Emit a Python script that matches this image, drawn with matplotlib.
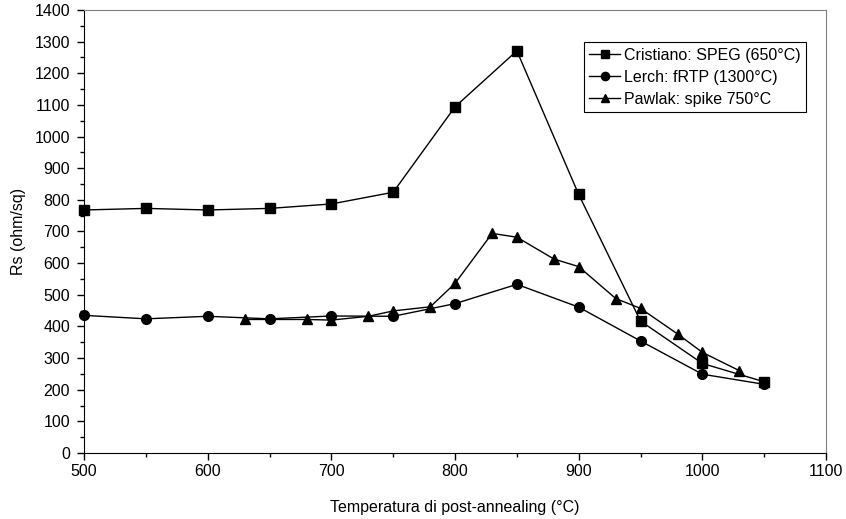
import matplotlib
matplotlib.use('Agg')
import matplotlib.pyplot as plt
from matplotlib.ticker import MultipleLocator

plt.rcParams['font.family'] = ['Liberation Sans', 'DejaVu Sans']

# dati
t_cristiano = [500, 550, 600, 650, 700, 750, 800, 850, 900, 950, 1000, 1050]
rs_cristiano = [768, 773, 768, 773, 787, 824, 1094, 1271, 817, 417, 283, 225]

t_lerch = [500, 550, 600, 650, 700, 750, 800, 850, 900, 950, 1000, 1050]
rs_lerch = [435, 424, 432, 424, 433, 432, 472, 533, 461, 354, 249, 217]

t_pawlak = [630, 680, 700, 730, 750, 780, 800, 830, 850, 880, 900, 930, 950, 980, 1000, 1030]
rs_pawlak = [422, 422, 420, 432, 449, 462, 536, 694, 682, 613, 589, 488, 457, 376, 318, 260]

fig = plt.figure(figsize=(8.46, 5.19), dpi=100)
ax = fig.add_axes([0.0993, 0.1272, 0.8771, 0.8535])

ax.plot(t_cristiano, rs_cristiano, color='black', lw=1, marker='s', ms=6.5,
        label='Cristiano: SPEG (650°C)', clip_on=False)
ax.plot(t_lerch, rs_lerch, color='black', lw=1, marker='o', ms=7,
        label='Lerch: fRTP (1300°C)', clip_on=False)
ax.plot(t_pawlak, rs_pawlak, color='black', lw=1, marker='^', ms=7.5,
        label='Pawlak: spike 750°C', clip_on=False)

ax.set_xlim(500, 1100)
ax.set_ylim(0, 1400)
ax.xaxis.set_major_locator(MultipleLocator(100))
ax.xaxis.set_minor_locator(MultipleLocator(50))
ax.yaxis.set_major_locator(MultipleLocator(100))
ax.yaxis.set_minor_locator(MultipleLocator(50))
ax.tick_params(which='major', direction='out', length=5, width=1, labelsize=11.5, pad=5)
ax.tick_params(axis='x', which='major', pad=3)
ax.tick_params(which='minor', direction='out', length=3, width=1)

for s in ['top', 'right']:
    ax.spines[s].set_color('#808080')

ax.set_xlabel('Temperatura di post-annealing (°C)', fontsize=11.5, labelpad=15)
ax.set_ylabel('Rs (ohm/sq)', fontsize=11.5, labelpad=6)

leg = ax.legend(loc='upper right', bbox_to_anchor=(0.973, 0.928), fontsize=11.5,
                fancybox=False, framealpha=1, edgecolor='black',
                handlelength=1.9, handletextpad=0.25, borderpad=0.35,
                labelspacing=0.45, borderaxespad=0, markerscale=0.85)
leg.get_frame().set_linewidth(0.8)

fig.savefig('out.png', dpi=100)
